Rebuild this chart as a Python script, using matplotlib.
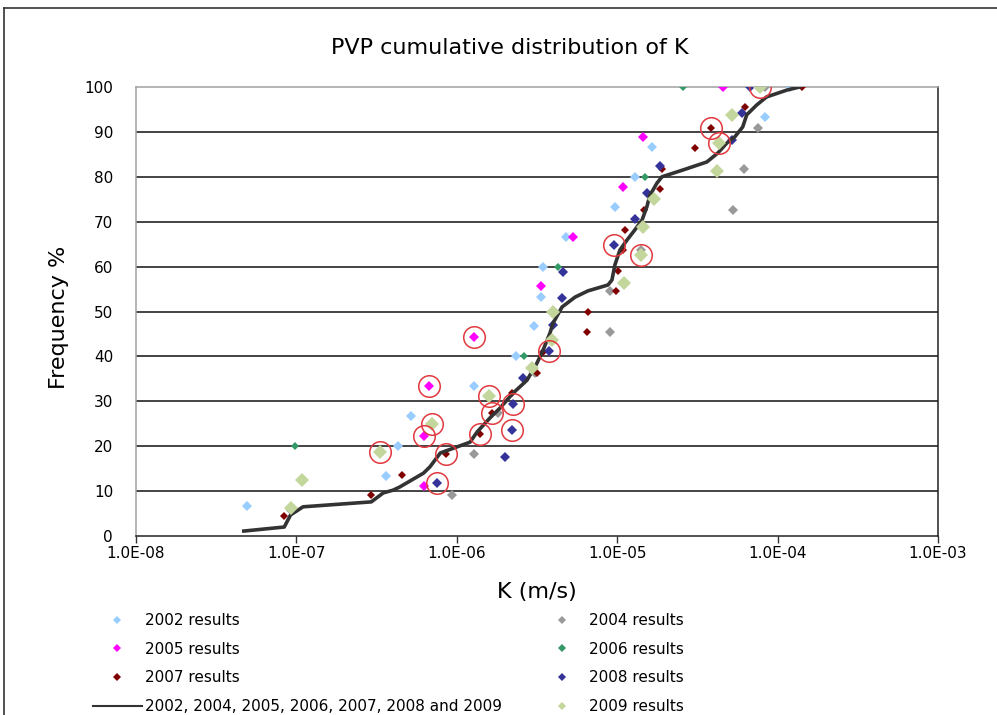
import matplotlib
matplotlib.use("Agg")
import matplotlib.pyplot as plt
from matplotlib.lines import Line2D
from matplotlib.ticker import NullLocator, FixedLocator, FixedFormatter

plt.rcParams['font.family'] = ['DejaVu Sans']

title = "PVP cumulative distribution of K"
x_label = "K (m/s)"
y_label = "Frequency %"
x_ticks = [1e-8, 1e-7, 1e-6, 1e-5, 1e-4, 1e-3]
x_tick_labels = ["1.0E-08", "1.0E-07", "1.0E-06", "1.0E-05", "1.0E-04", "1.0E-03"]
y_ticks = [0, 10, 20, 30, 40, 50, 60, 70, 80, 90, 100]

k_2002 = [4.9e-8, 3.6e-7, 4.3e-7, 5.2e-7, 1.28e-6, 2.34e-6, 3.03e-6, 3.35e-6, 3.45e-6,
          4.8e-6, 9.7e-6, 1.29e-5, 1.64e-5, 8.4e-5, 1.19e-4]
f_2002 = [6.7, 13.3, 20.0, 26.7, 33.3, 40.0, 46.7, 53.3, 60.0, 66.7, 73.3, 80.0, 86.7, 93.3, 100.0]

k_2004 = [9.3e-7, 1.28e-6, 1.81e-6, 3.07e-6, 9.0e-6, 9.0e-6, 1.41e-5, 5.25e-5, 6.15e-5, 7.6e-5, 8.3e-5]
f_2004 = [9.1, 18.2, 27.3, 36.4, 45.5, 54.5, 63.6, 72.7, 81.8, 90.9, 100.0]

k_2005 = [6.26e-7, 6.26e-7, 6.7e-7, 1.28e-6, 3.35e-6, 5.3e-6, 1.09e-5, 1.45e-5, 4.56e-5]
f_2005 = [11.1, 22.2, 33.3, 44.4, 55.6, 66.7, 77.8, 88.9, 100.0]

k_2006 = [9.8e-8, 2.62e-6, 4.27e-6, 1.49e-5, 2.56e-5]
f_2006 = [20.0, 40.0, 60.0, 80.0, 100.0]

k_2007 = [8.4e-8, 2.93e-7, 4.56e-7, 8.6e-7, 1.40e-6, 1.66e-6, 2.21e-6, 3.16e-6, 3.45e-6,
          6.47e-6, 6.58e-6, 9.8e-6, 1.01e-5, 1.09e-5, 1.12e-5, 1.47e-5, 1.85e-5, 1.90e-5,
          3.05e-5, 3.84e-5, 6.26e-5, 1.42e-4]
f_2007 = [4.5, 9.1, 13.6, 18.2, 22.7, 27.3, 31.8, 36.4, 40.9, 45.5, 50.0, 54.5, 59.1, 63.6,
          68.2, 72.7, 77.3, 81.8, 86.4, 90.9, 95.5, 100.0]

k_2008 = [9.2e-8, 7.5e-7, 1.99e-6, 2.21e-6, 2.24e-6, 2.59e-6, 3.76e-6, 3.98e-6, 4.53e-6,
          4.59e-6, 9.5e-6, 1.29e-5, 1.53e-5, 1.85e-5, 5.18e-5, 5.98e-5, 6.7e-5]
f_2008 = [5.9, 11.8, 17.6, 23.5, 29.4, 35.3, 41.2, 47.1, 52.9, 58.8, 64.7, 70.6, 76.5, 82.4,
          88.2, 94.1, 100.0]

k_2009 = [9.2e-8, 1.09e-7, 3.33e-7, 7.0e-7, 1.59e-6, 2.94e-6, 3.92e-6, 3.98e-6, 1.10e-5,
          1.41e-5, 1.45e-5, 1.69e-5, 4.16e-5, 4.34e-5, 5.18e-5, 7.74e-5]
f_2009 = [6.25, 12.5, 18.75, 25.0, 31.25, 37.5, 43.75, 50.0, 56.25, 62.5, 68.75, 75.0,
          81.25, 87.5, 93.75, 100.0]

# combined cumulative curve (2002-2009)
line_k = [4.7e-8, 8.4e-8, 9.2e-8, 1.10e-7, 2.93e-7, 3.48e-7, 4.0e-7, 4.4e-7, 6.2e-7, 6.8e-7,
          7.9e-7, 1.21e-6, 1.34e-6, 1.61e-6, 1.86e-6, 2.24e-6, 2.74e-6, 3.16e-6, 3.45e-6,
          3.81e-6, 3.98e-6, 4.53e-6, 5.46e-6, 6.58e-6, 8.75e-6, 9.27e-6, 9.68e-6, 1.04e-5,
          1.15e-5, 1.29e-5, 1.43e-5, 1.53e-5, 1.60e-5, 1.77e-5, 1.90e-5, 2.56e-5, 3.62e-5,
          4.24e-5, 4.82e-5, 5.41e-5, 6.06e-5, 6.42e-5, 7.41e-5, 8.55e-5, 1.14e-4, 1.37e-4]
line_f = [1.1, 2.0, 4.7, 6.5, 7.6, 9.6, 10.2, 10.9, 14.0, 15.4, 18.5, 20.9, 23.2, 26.3, 28.5,
          31.8, 34.7, 38.5, 41.4, 45.2, 47.4, 51.0, 53.2, 54.6, 55.9, 57.0, 60.4, 63.7, 65.9,
          68.2, 70.4, 73.3, 75.9, 78.6, 80.0, 81.5, 83.3, 85.3, 87.5, 88.9, 91.1, 93.8, 96.0,
          97.8, 99.3, 100.0]

# highlighted (red-circled) points, indices into each series
circled_2005 = [1, 2, 3]
circled_2007 = [3, 4, 5, 19]
circled_2008 = [1, 3, 4, 6, 10]
circled_2009 = [2, 3, 4, 9, 13, 15]

series = [
    ("2002 results", k_2002, f_2002, "#99CCFF", 5.0),
    ("2004 results", k_2004, f_2004, "#999999", 5.0),
    ("2005 results", k_2005, f_2005, "#FF00FF", 5.0),
    ("2006 results", k_2006, f_2006, "#339966", 3.6),
    ("2007 results", k_2007, f_2007, "#800000", 3.8),
    ("2008 results", k_2008, f_2008, "#333399", 5.0),
]

fig = plt.figure(figsize=(9.97, 7.15), dpi=100)
W, H = 997.0, 715.0
ax = fig.add_axes([136 / W, 179 / H, 802 / W, 449 / H])

for name, ks, fs, col, ms in series:
    ax.plot(ks, fs, linestyle="none", marker="D", markersize=ms, color=col,
            markeredgewidth=0, zorder=3)

ax.plot(line_k, line_f, color="#333333", linewidth=2.6, zorder=4, solid_joinstyle="round")
ax.plot(k_2009, f_2009, linestyle="none", marker="D", markersize=6.8, color="#C3D69B",
        markeredgewidth=0, zorder=5)

ck, cf = [], []
for idx, ks, fs in [(circled_2005, k_2005, f_2005), (circled_2007, k_2007, f_2007),
                    (circled_2008, k_2008, f_2008), (circled_2009, k_2009, f_2009)]:
    for i in idx:
        ck.append(ks[i])
        cf.append(fs[i])
ax.plot(ck, cf, linestyle="none", marker="o", markersize=15.5, markerfacecolor="none",
        markeredgecolor="#E0393E", markeredgewidth=1.1, zorder=6)

ax.set_xscale("log")
ax.set_xlim(1e-8, 1e-3)
ax.set_ylim(0, 100)
ax.xaxis.set_major_locator(FixedLocator(x_ticks))
ax.xaxis.set_major_formatter(FixedFormatter(x_tick_labels))
ax.xaxis.set_minor_locator(NullLocator())
ax.set_yticks(y_ticks)
for y in y_ticks[1:-1]:
    ax.axhline(y, color="#111111", linewidth=1.1, zorder=1)

ax.tick_params(axis="x", direction="out", length=5, width=1, color="#333333",
               labelsize=11, pad=2)
ax.tick_params(axis="y", length=0, labelsize=11, pad=16.5)
for side, col in [("left", "#A0A0A0"), ("top", "#A0A0A0"), ("right", "#222222"), ("bottom", "#222222")]:
    ax.spines[side].set_color(col)
    ax.spines[side].set_linewidth(1.1)

fig.text(510 / W, 1 - 48 / H, title, ha="center", va="center", fontsize=16)
fig.text(59 / W, 1 - 317 / H, y_label, ha="center", va="center", fontsize=16, rotation=90)
fig.text(537 / W, 1 - 592 / H, x_label, ha="center", va="center", fontsize=16)

# figure frame
fig.add_artist(Line2D([4 / W, 4 / W], [0, 1 - 8 / H], color="#333333", linewidth=1.2))
fig.add_artist(Line2D([4 / W, 1], [1 - 8 / H, 1 - 8 / H], color="#333333", linewidth=1.2))

legend_entries = [
    ("2002 results", "#99CCFF", "m"),
    ("2005 results", "#FF00FF", "m"),
    ("2007 results", "#800000", "m"),
    ("2002, 2004, 2005, 2006, 2007, 2008 and 2009", "#333333", "l"),
    ("2004 results", "#999999", "m"),
    ("2006 results", "#339966", "m"),
    ("2008 results", "#333399", "m"),
    ("2009 results", "#C3D69B", "m"),
]
lh = []
for lab, col, kind in legend_entries:
    if kind == "m":
        lh.append(Line2D([], [], linestyle="none", marker="D", markersize=4, color=col,
                         markeredgewidth=0, label=lab))
    else:
        lh.append(Line2D([], [], color=col, linewidth=1.5, label=lab))
fig.legend(handles=lh, loc="upper left", bbox_to_anchor=(93 / W, 1 - 613 / H), ncol=2,
           frameon=False, fontsize=11, borderpad=0, borderaxespad=0, handlelength=3.2,
           handletextpad=0.2, columnspacing=2.3, labelspacing=0.9)

fig.savefig("out.png", dpi=100)
